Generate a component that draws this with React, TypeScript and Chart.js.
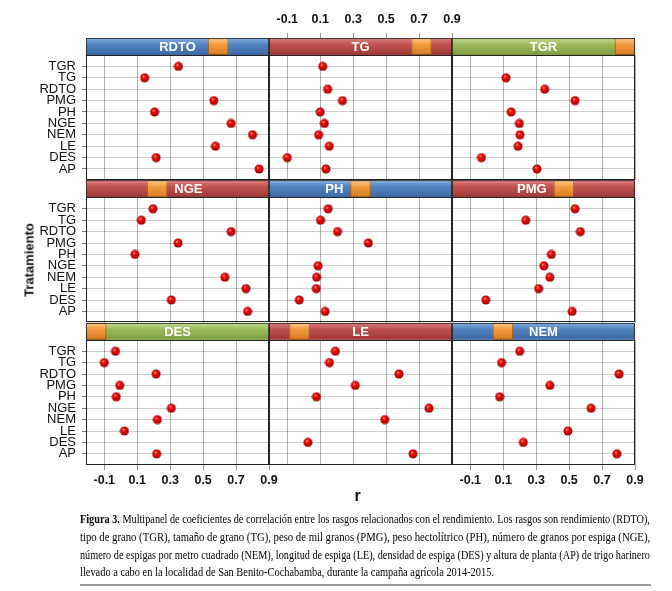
import React, { useEffect, useLayoutEffect, useRef } from 'react';
import { Chart, registerables } from 'chart.js';

Chart.register(...registerables);

// ---------- data ----------
const categories = ['TGR', 'TG', 'RDTO', 'PMG', 'PH', 'NGE', 'NEM', 'LE', 'DES', 'AP'];
const xTickValues = [-0.1, 0.1, 0.3, 0.5, 0.7, 0.9];
const stripLevels = ['DES', 'LE', 'NEM', 'NGE', 'PH', 'PMG', 'RDTO', 'TG', 'TGR'];
const panelOrder = ['RDTO', 'TG', 'TGR', 'NGE', 'PH', 'PMG', 'DES', 'LE', 'NEM'];
const panelColors = ['blue', 'red', 'green', 'red', 'blue', 'red', 'green', 'red', 'blue'];

// values in category order: TGR, TG, RDTO, PMG, PH, NGE, NEM, LE, DES, AP
const rRDTO = [0.35, 0.145, null, 0.565, 0.205, 0.67, 0.8, 0.575, 0.215, 0.84];
const rTG = [0.115, null, 0.145, 0.235, 0.1, 0.125, 0.09, 0.155, -0.1, 0.135];
const rTGR = [null, 0.117, 0.352, 0.536, 0.148, 0.198, 0.202, 0.19, -0.032, 0.305];
const rNGE = [0.196, 0.125, 0.67, 0.348, 0.086, null, 0.632, 0.76, 0.307, 0.77];
const rPH = [0.148, 0.102, 0.205, 0.392, null, 0.087, 0.078, 0.076, -0.027, 0.13];
const rPMG = [0.536, 0.237, 0.568, null, 0.392, 0.347, 0.383, 0.315, -0.006, 0.518];
const rDES = [-0.032, -0.1, 0.215, -0.006, -0.027, 0.307, 0.222, 0.022, null, 0.218];
const rLE = [0.192, 0.156, 0.578, 0.313, 0.077, 0.76, 0.492, null, 0.025, 0.663];
const rNEM = [0.2, 0.09, 0.803, 0.383, 0.078, 0.633, null, 0.493, 0.222, 0.79];

const panelValues = [rRDTO, rTG, rTGR, rNGE, rPH, rPMG, rDES, rLE, rNEM];

const captionLines = [
  { bold: 'Figura 3.', text: ' Multipanel de coeficientes de correlación entre los rasgos relacionados con el rendimiento. Los rasgos son rendimiento (RDTO),' },
  { bold: '', text: 'tipo de grano (TGR), tamaño de grano (TG), peso de mil granos (PMG), peso hectolítrico (PH), número de granos por espiga (NGE),' },
  { bold: '', text: 'número de espigas por metro cuadrado (NEM), longitud de espiga (LE), densidad de espiga (DES) y altura de planta (AP) de trigo harinero' },
  { bold: '', text: 'llevado a cabo en la localidad de San Benito-Cochabamba, durante la campaña agrícola 2014-2015.' },
];

// ---------- layout ----------
const W = 672;
const H = 591;
const COL_LEFT = [86, 269, 452];
const COL_W = 183;
const ROW_TOP = [38, 180.4, 322.8];
const STRIP_H = 17;
const PLOT_H = 125.4;
const X_MIN = -0.211;
const X_MAX = 0.9;
const BOTTOM_AXIS_H = 30;
const CAPTION_WIDTHS = [570, 570, 570, 414];

const PALETTES: Record<string, string[]> = {
  blue: ['#86aee0', '#4f81bd', '#3b69a3'],
  red: ['#dc807c', '#c0504d', '#9c3936'],
  green: ['#c2da93', '#9bbb59', '#7d9b41'],
  orange: ['#fcc88a', '#f39a3e', '#d47a22'],
};

const SANS = '"Liberation Sans", Arial, Helvetica, sans-serif';

function makeDot(): HTMLCanvasElement {
  const c = document.createElement('canvas');
  c.width = 10;
  c.height = 10;
  const g = c.getContext('2d')!;
  const grad = g.createRadialGradient(3.8, 3.4, 0.3, 5, 5, 5);
  grad.addColorStop(0, '#ff8a7a');
  grad.addColorStop(0.3, '#e81010');
  grad.addColorStop(0.75, '#c00000');
  grad.addColorStop(1, '#6e0000');
  g.fillStyle = grad;
  g.beginPath();
  g.arc(5, 5, 4.5, 0, Math.PI * 2);
  g.fill();
  return c;
}

const stripPlugin = {
  id: 'strip',
  afterDraw(chart: any, _args: any, opts: any) {
    const { ctx, chartArea: a } = chart;
    const top = a.top - STRIP_H;
    const w = a.right - a.left;
    ctx.save();
    const pal = PALETTES[opts.color];
    const g = ctx.createLinearGradient(0, top, 0, a.top);
    g.addColorStop(0, pal[0]);
    g.addColorStop(0.4, pal[1]);
    g.addColorStop(1, pal[2]);
    ctx.fillStyle = g;
    ctx.fillRect(a.left, top, w, STRIP_H);

    const idx = stripLevels.indexOf(opts.name);
    const bw = w / stripLevels.length;
    const bx = a.left + idx * bw;
    const og = ctx.createLinearGradient(0, top, 0, a.top);
    const op = PALETTES.orange;
    og.addColorStop(0, op[0]);
    og.addColorStop(0.4, op[1]);
    og.addColorStop(1, op[2]);
    ctx.fillStyle = og;
    ctx.fillRect(bx, top, bw, STRIP_H);
    ctx.strokeStyle = 'rgba(0,0,0,0.3)';
    ctx.lineWidth = 1;
    ctx.strokeRect(bx + 0.5, top + 0.5, bw - 1, STRIP_H - 1);

    ctx.strokeStyle = 'rgba(30,30,30,0.75)';
    ctx.strokeRect(Math.round(a.left) + 0.5, Math.round(top) + 0.5, Math.round(w) - 1, STRIP_H);

    ctx.font = 'bold 13px ' + SANS;
    const tw = ctx.measureText(opts.name).width;
    const cx = (a.left + a.right) / 2;
    let lx = cx - tw / 2;
    const gap = 7;
    if (lx < bx + bw + 2 && lx + tw > bx - 2) {
      if (bx + bw / 2 < cx) lx = bx + bw + gap;
      else lx = bx - gap - tw;
    }
    ctx.fillStyle = '#ffffff';
    ctx.textBaseline = 'middle';
    ctx.textAlign = 'left';
    ctx.fillText(opts.name, lx, top + STRIP_H / 2 + 1);

    ctx.strokeStyle = '#222';
    ctx.strokeRect(Math.round(a.left) + 0.5, Math.round(a.top) + 0.5, Math.round(w) - 1, Math.round(a.bottom - a.top) - 1);
    ctx.restore();
  },
};

export default function App() {
  const canvasRefs = useRef<(HTMLCanvasElement | null)[]>([]);
  const spanRefs = useRef<(HTMLSpanElement | null)[]>([]);

  useLayoutEffect(() => {
    spanRefs.current.forEach((el, i) => {
      if (!el) return;
      el.style.transform = 'none';
      const w = el.offsetWidth;
      if (w > 0) el.style.transform = `scaleX(${CAPTION_WIDTHS[i] / w})`;
    });
  }, []);

  useEffect(() => {
    const dot = makeDot();
    const charts: Chart[] = [];
    panelOrder.forEach((name, p) => {
      const canvas = canvasRefs.current[p];
      if (!canvas) return;
      const r = Math.floor(p / 3);
      const c = p % 3;
      const isLeft = c === 0;
      const showTop = r === 0 && c === 1;
      const showBottom = r === 2 && c !== 1;
      const vals = panelValues[p];
      const pts = vals
        .map((v, i) => (v == null ? null : { x: v, y: i + 1 }))
        .filter((d) => d !== null) as { x: number; y: number }[];
      const plotTop = ROW_TOP[r] + STRIP_H;
      const plotBottom = plotTop + PLOT_H;
      const xAxisSize = showTop ? plotTop : showBottom ? BOTTOM_AXIS_H : 0;
      const padTop = showTop ? 0 : plotTop;
      const padBottom = showBottom ? H - plotBottom - BOTTOM_AXIS_H : H - plotBottom;
      const yAxisSize = isLeft ? COL_LEFT[0] : 0;
      const padLeft = isLeft ? 0 : COL_LEFT[c];
      const chart = new Chart(canvas, {
        type: 'scatter',
        data: {
          datasets: [
            {
              data: pts,
              pointStyle: dot as any,
              pointRadius: 5,
              pointHoverRadius: 5,
              clip: 8 as any,
            },
          ],
        },
        options: {
          responsive: false,
          animation: false,
          events: [],
          layout: {
            padding: {
              left: padLeft,
              right: W - COL_LEFT[c] - COL_W,
              top: padTop,
              bottom: padBottom,
            },
          },
          plugins: {
            legend: { display: false },
            tooltip: { enabled: false },
            strip: { name, color: panelColors[p] },
          } as any,
          scales: {
            x: {
              type: 'linear',
              position: showTop ? 'top' : 'bottom',
              min: X_MIN,
              max: X_MAX,
              afterBuildTicks: (s: any) => {
                s.ticks = xTickValues.map((v) => ({ value: v }));
              },
              afterFit: (s: any) => {
                s.height = xAxisSize;
              },
              grid: {
                color: 'rgba(0,0,0,0.3)',
                drawTicks: showTop || showBottom,
                tickLength: showTop ? STRIP_H + 5 : 5,
                tickColor: '#9a9a9a',
              },
              border: { display: false },
              ticks: {
                display: showTop || showBottom,
                autoSkip: false,
                maxRotation: 0,
                padding: showTop ? 6 : 3,
                color: '#111',
                font: { family: SANS, size: 12.5, weight: 'bold' },
                callback: (v: any) => Number(v).toFixed(1),
              },
            },
            y: {
              type: 'linear',
              reverse: true,
              min: 0,
              max: 11,
              afterBuildTicks: (s: any) => {
                s.ticks = categories.map((_, i) => ({ value: i + 1 }));
              },
              afterFit: (s: any) => {
                s.width = yAxisSize;
              },
              grid: {
                color: 'rgba(0,0,0,0.2)',
                drawTicks: isLeft,
                tickLength: 4,
                tickColor: '#777',
              },
              border: { display: false },
              ticks: {
                display: isLeft,
                autoSkip: false,
                padding: 6,
                color: '#111',
                font: { family: SANS, size: 13 },
                callback: (v: any) => categories[Math.round(Number(v)) - 1] ?? '',
              },
            },
          },
        } as any,
        plugins: [stripPlugin as any],
      });
      charts.push(chart);
    });
    return () => charts.forEach((ch) => ch.destroy());
  }, []);

  return (
    <div
      style={{
        position: 'fixed',
        left: 0,
        top: 0,
        width: W,
        height: H,
        background: '#ffffff',
        overflow: 'hidden',
      }}
    >
      {panelOrder.map((name, p) => (
        <canvas
          key={name}
          ref={(el) => {
            canvasRefs.current[p] = el;
          }}
          width={W}
          height={H}
          style={{ position: 'absolute', left: 0, top: 0, width: W, height: H }}
        />
      ))}
      <div
        style={{
          position: 'absolute',
          left: 29,
          top: 260,
          transform: 'translate(-50%, -50%) rotate(-90deg)',
          font: 'bold 13px ' + SANS,
          color: '#111',
          whiteSpace: 'nowrap',
        }}
      >
        Tratamiento
      </div>
      <div
        style={{
          position: 'absolute',
          left: 357.5,
          top: 496,
          transform: 'translate(-50%, -50%)',
          font: 'bold 16px ' + SANS,
          color: '#111',
        }}
      >
        r
      </div>
      {captionLines.map((ln, i) => (
        <span
          key={i}
          ref={(el) => {
            spanRefs.current[i] = el;
          }}
          style={{
            position: 'absolute',
            left: 80,
            top: 511 + 17.8 * i,
            whiteSpace: 'nowrap',
            transformOrigin: '0 0',
            font: '13px "Liberation Serif", "Times New Roman", serif',
            lineHeight: '16px',
            color: '#000',
          }}
        >
          {ln.bold ? <b>{ln.bold}</b> : null}
          {ln.text}
        </span>
      ))}
      <div
        style={{
          position: 'absolute',
          left: 80,
          top: 584,
          width: 571,
          height: 2,
          background: '#9a9a9a',
        }}
      />
    </div>
  );
}
